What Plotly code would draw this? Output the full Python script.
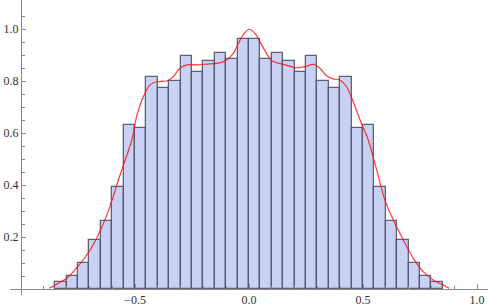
import plotly.graph_objects as go

# Histogram bins (left edges) and heights
bin_left = [-0.85, -0.80, -0.75, -0.70, -0.65, -0.60, -0.55, -0.50, -0.45, -0.40,
            -0.35, -0.30, -0.25, -0.20, -0.15, -0.10, -0.05, 0.00, 0.05, 0.10,
            0.15, 0.20, 0.25, 0.30, 0.35, 0.40, 0.45, 0.50, 0.55, 0.60,
            0.65, 0.70, 0.75, 0.80]
bin_width = 0.05
heights = [0.026, 0.049, 0.099, 0.190, 0.260, 0.391, 0.631, 0.619, 0.817, 0.772,
           0.801, 0.895, 0.835, 0.877, 0.906, 0.883, 0.960, 0.960, 0.883, 0.906,
           0.877, 0.835, 0.895, 0.801, 0.772, 0.817, 0.619, 0.631, 0.391, 0.260,
           0.190, 0.099, 0.049, 0.026]

# Smooth density curve
curve_x = [-0.876, -0.800, -0.751, -0.697, -0.654, -0.610, -0.573, -0.558, -0.514, -0.493,
           -0.463, -0.434, -0.405, -0.361, -0.332, -0.303, -0.273, -0.229, -0.186, -0.127,
           -0.098, -0.069, -0.039, -0.018, 0.001, 0.026, 0.056, 0.100, 0.151, 0.209,
           0.246, 0.282, 0.311, 0.341, 0.370, 0.399, 0.428, 0.457, 0.487, 0.523,
           0.560, 0.596, 0.633, 0.677, 0.721, 0.764, 0.808, 0.852, 0.878]
curve_y = [0.003, 0.041, 0.086, 0.150, 0.221, 0.317, 0.419, 0.458, 0.573, 0.663,
           0.740, 0.785, 0.797, 0.800, 0.817, 0.849, 0.862, 0.862, 0.865, 0.870,
           0.881, 0.906, 0.958, 0.986, 0.999, 0.983, 0.938, 0.878, 0.864, 0.851,
           0.855, 0.864, 0.849, 0.819, 0.808, 0.804, 0.778, 0.720, 0.650, 0.573,
           0.458, 0.342, 0.265, 0.188, 0.118, 0.067, 0.035, 0.015, 0.003]

x_tickvals = [-0.5, 0.0, 0.5, 1.0]
x_ticktext = ["\u22120.5", "0.0", "0.5", "1.0"]
y_tickvals = [0.2, 0.4, 0.6, 0.8, 1.0]
y_ticktext = ["0.2", "0.4", "0.6", "0.8", "1.0"]

centers = [b + bin_width / 2 for b in bin_left]

fig = go.Figure()
fig.add_trace(go.Bar(
    x=centers, y=heights, width=[bin_width] * len(heights),
    marker=dict(color="#c9d1f4", line=dict(color="rgba(70,75,95,0.85)", width=1.3)),
    hoverinfo="skip",
))
fig.add_trace(go.Scatter(
    x=curve_x, y=curve_y, mode="lines",
    line=dict(color="rgba(255,20,20,0.85)", width=1.2, shape="spline", smoothing=0.8),
    hoverinfo="skip",
))

W, H = 488, 306
ml, mb = 10, 11
plot_w = W - ml
plot_h = H - mb
px_per_x = 228.0
px_per_y = 260.0
x0_pix = 249 - ml  # pixel of x=0 inside plot area
x_range = [-x0_pix / px_per_x, (plot_w - x0_pix) / px_per_x]
y0_from_bottom = H - 289 - mb  # pixels from plot bottom to y=0
y_range = [-y0_from_bottom / px_per_y, (plot_h - y0_from_bottom) / px_per_y]

axis_color = "#8a8a8a"
tick_font = dict(family="Liberation Serif, Times New Roman, serif", size=12, color="#333333")

fig.update_layout(
    width=W, height=H,
    margin=dict(l=ml, r=0, t=0, b=mb),
    paper_bgcolor="white", plot_bgcolor="white",
    showlegend=False,
    bargap=0,
    xaxis=dict(
        range=x_range, showgrid=False, zeroline=False,
        showline=True, linecolor=axis_color, linewidth=1,
        anchor="free", position=y0_from_bottom / plot_h,
        tickmode="array", tickvals=x_tickvals, ticktext=x_ticktext,
        ticks="inside", ticklen=5, tickcolor=axis_color, tickwidth=1,
        minor=dict(tickmode="array", tickvals=[-0.9, -0.8, -0.7, -0.6, -0.4, -0.3, -0.2, -0.1,
                                               0.1, 0.2, 0.3, 0.4, 0.6, 0.7, 0.8, 0.9],
                   ticks="inside", ticklen=3, tickcolor=axis_color, tickwidth=1),
        tickfont=tick_font, fixedrange=True,
    ),
    yaxis=dict(
        range=y_range, showgrid=False, zeroline=False,
        showline=True, linecolor=axis_color, linewidth=1,
        anchor="free", position=(21 - ml) / plot_w,
        tickmode="array", tickvals=y_tickvals, ticktext=y_ticktext,
        ticks="inside", ticklen=4, tickcolor=axis_color, tickwidth=1,
        minor=dict(tickmode="array",
                   tickvals=[0.05, 0.1, 0.15, 0.25, 0.3, 0.35, 0.45, 0.5, 0.55,
                             0.65, 0.7, 0.75, 0.85, 0.9, 0.95, 1.05],
                   ticks="inside", ticklen=2.5, tickcolor=axis_color, tickwidth=1),
        tickfont=tick_font, fixedrange=True,
    ),
)

fig.write_html(
    "out.html",
    config={"displayModeBar": False},
    post_script="document.body.style.margin='0';document.body.style.padding='0';",
)
